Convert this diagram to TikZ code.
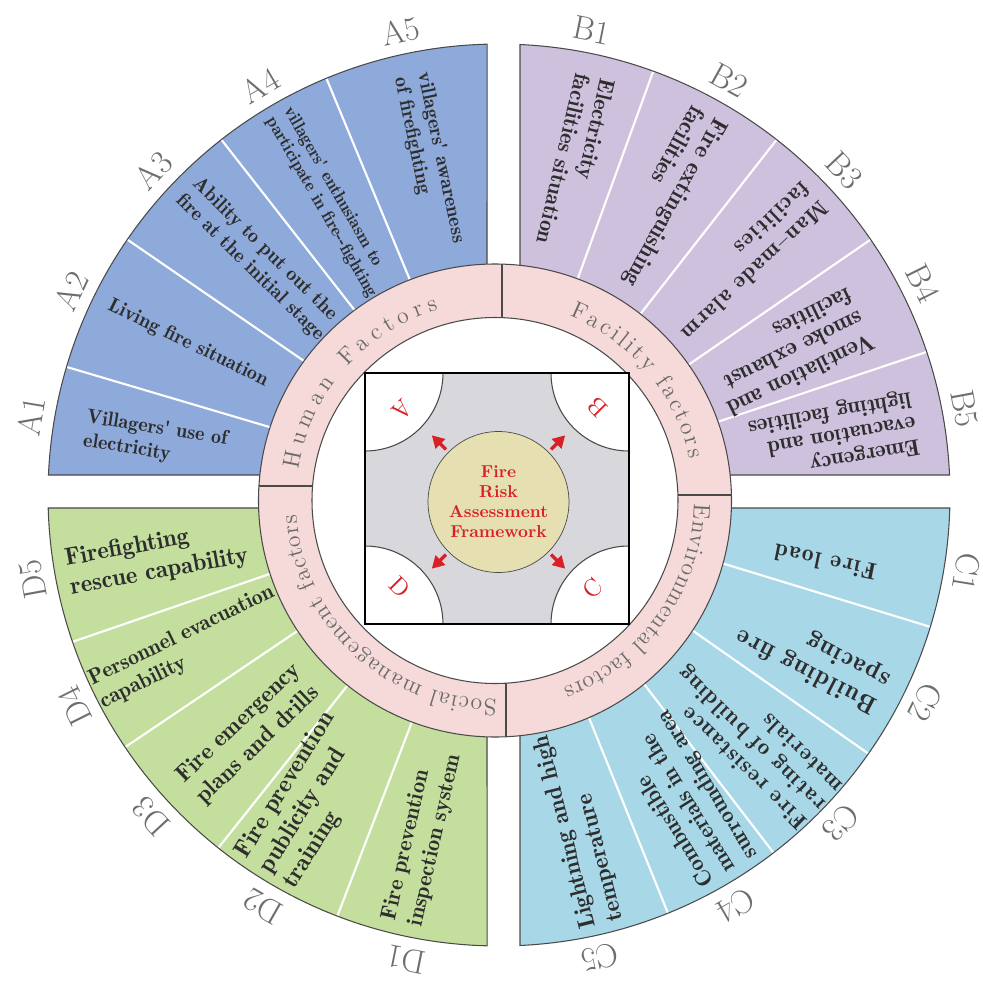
\documentclass[tikz,border=0pt]{standalone}
\usepackage{fontspec}
\newfontfamily\demifont{lmromandemi10-regular.otf}
\newfontfamily\widefont{lmromandemi10-regular.otf}[LetterSpace=6]
\usetikzlibrary{arrows.meta,decorations.text}

\definecolor{humanblue}{HTML}{8EAADB}
\definecolor{facilitylilac}{HTML}{CEC1DD}
\definecolor{envcyan}{HTML}{A8D8E8}
\definecolor{socialgreen}{HTML}{C4DF9D}
\definecolor{ringpink}{HTML}{F6D9D9}
\definecolor{corekhaki}{HTML}{E5DFB2}
\definecolor{boxgray}{HTML}{D8D8DC}
\definecolor{edge}{HTML}{4A4A4A}
\definecolor{ink}{HTML}{2E2E2E}
\definecolor{taggray}{HTML}{6E6E6E}
\definecolor{bandgray}{HTML}{6A6A6A}
\definecolor{firered}{HTML}{D92027}

\begin{document}
\begin{tikzpicture}[x=0.02cm, y=0.02cm,
    sector/.style={draw=edge, line width=0.6pt},
    split/.style={white, line width=1.2pt},
    item/.style 2 args={text=ink, align=left, inner sep=0pt,
      font=\demifont\fontsize{#1}{#2}\selectfont},
    wide/.style 2 args={text=ink, align=left, inner sep=0pt,
      font=\widefont\fontsize{#1}{#2}\selectfont},
    tag/.style={text=taggray, inner sep=0pt, font=\fontsize{19}{19}\selectfont},
    band/.style={decorate, decoration={text along path, text align=fit to path,
      text color=bandgray, text={|\fontsize{13.5}{13.5}\selectfont|#1}}},
    core/.style={circle, draw=edge, fill=corekhaki, minimum size=2.82cm, inner sep=0pt,
      text=firered, align=center, font=\bfseries\fontsize{9.8}{11.4}\selectfont},
    push/.style={firered, line width=2pt, -{Triangle[length=7pt,width=7.5pt]}, shorten <=2pt},
    letter/.style={text=firered, font=\fontsize{14}{14}\selectfont}
  ]
  \fill[white] (-499,-486) rectangle (484,495);
  \useasboundingbox (-499,-486) rectangle (484,495);

  \fill[humanblue] (-12,20) -- (91.52:451) arc[start angle=91.52, end angle=177.46, radius=451] -- cycle;
  \fill[facilitylilac] (21,20) -- (87.33:451) arc[start angle=87.33, end angle=2.54, radius=451] -- cycle;
  \fill[envcyan] (21,-13) -- (-1.65:451) arc[start angle=-1.65, end angle=-87.33, radius=451] -- cycle;
  \fill[socialgreen] (-12,-13) -- (181.65:451) arc[start angle=181.65, end angle=268.48, radius=451] -- cycle;

  \draw[split] (163.5:180) -- (163.5:451);
  \draw[split] (145.5:180) -- (145.5:451);
  \draw[split] (128:180) -- (128:451);
  \draw[split] (112.5:180) -- (112.5:451);
  \draw[split] (70:180) -- (70:451);
  \draw[split] (52:180) -- (52:451);
  \draw[split] (34.5:180) -- (34.5:451);
  \draw[split] (18.5:180) -- (18.5:451);
  \draw[split] (-17:180) -- (-17:451);
  \draw[split] (-35:180) -- (-35:451);
  \draw[split] (-52.5:180) -- (-52.5:451);
  \draw[split] (-68:180) -- (-68:451);
  \draw[split] (199:180) -- (199:451);
  \draw[split] (214:180) -- (214:451);
  \draw[split] (231.5:180) -- (231.5:451);
  \draw[split] (249:180) -- (249:451);

  \draw[sector] (-12,20) -- (91.52:451) arc[start angle=91.52, end angle=177.46, radius=451] -- cycle;
  \draw[sector] (21,20) -- (87.33:451) arc[start angle=87.33, end angle=2.54, radius=451] -- cycle;
  \draw[sector] (21,-13) -- (-1.65:451) arc[start angle=-1.65, end angle=-87.33, radius=451] -- cycle;
  \draw[sector] (-12,-13) -- (181.65:451) arc[start angle=181.65, end angle=268.48, radius=451] -- cycle;

  \begin{scope}[shift={(-4,-5.5)}]
    \filldraw[fill=ringpink, draw=edge, line width=0.6pt] (0,0) circle[radius=236.5];
    \filldraw[fill=white, draw=edge, line width=0.6pt] (0,0) circle[radius=183];
    \draw[edge, line width=0.6pt] (7,182.9) -- (7,236.4);
    \draw[edge, line width=0.6pt] (11,-182.7) -- (11,-236.2);
    \draw[edge, line width=0.6pt] (-182.4,14.5) -- (-236.1,14.5);
    \draw[edge, line width=0.6pt] (182.9,5.5) -- (236.4,5.5);
    \path[band={Human Factors}] (171:199) arc[start angle=171, end angle=106.5, radius=199];
    \path[band={Facility factors}] (68:199) arc[start angle=68, end angle=12, radius=199];
    \path[band={Environmental factors}] (-1:199) arc[start angle=-1, end angle=-70, radius=199];
    \path[band={Social management factors}] (-89.5:199) arc[start angle=-89.5, end angle=-176, radius=199];
  \end{scope}

  \fill[boxgray] (-134,-129) rectangle (130,122);
  \filldraw[fill=white, draw=edge, line width=0.6pt] (-134,122) -- (-56,122) arc[start angle=0, end angle=-90, radius=78] -- cycle;
  \filldraw[fill=white, draw=edge, line width=0.6pt] (130,122) -- (52,122) arc[start angle=180, end angle=270, radius=78] -- cycle;
  \filldraw[fill=white, draw=edge, line width=0.6pt] (130,-129) -- (52,-129) arc[start angle=180, end angle=90, radius=78] -- cycle;
  \filldraw[fill=white, draw=edge, line width=0.6pt] (-134,-129) -- (-56,-129) arc[start angle=0, end angle=90, radius=78] -- cycle;
  \draw[black, line width=0.8pt] (-134,-129) rectangle (130,122);

  \node[core] (fw) at (-0.5,-7) {Fire\\Risk\\Assessment\\Framework};
  \draw[push] (fw.135) -- ++(135:23.5);
  \draw[push] (fw.45) -- ++(45:23.5);
  \draw[push] (fw.-45) -- ++(-45:23.5);
  \draw[push] (fw.-135) -- ++(-135:23.5);
  \node[letter, rotate=-135] (la) at (-97,85) {A};
  \node[letter, rotate=135] (lb) at (99,88) {B};
  \node[letter, rotate=45] (lc) at (94,-93) {C};
  \node[letter, rotate=-45] (ld) at (-99,-92) {D};

  \node[item={11.5}{13.5}, rotate=351] (a1) at (171:348) {Villagers' use of\\electricity};
  \node[item={11.5}{13.5}, rotate=334] (a2) at (154:346) {Living fire situation};
  \node[item={11.5}{13.5}, rotate=315.6] (a3) at (135.6:337) {Ability to put out the\\fire at the initial stage};
  \node[item={10}{11.5}, rotate=300] (a4) at (120:338) {villagers' enthusiasm to\\participate in fire--fighting};
  \node[item={11.5}{13.5}, rotate=281.8] (a5) at (101.8:342) {villagers' awareness\\of firefighting};

  \node[item={12.8}{14.5}, rotate=257] (b1) at (77:342) {Electricity\\facilities situation};
  \node[item={13.5}{15}, rotate=240.9] (b2) at (60.9:341) {Fire extinguishing\\facilities};
  \node[wide={13}{15}, rotate=223.3] (b3) at (43.3:340) {Man\textendash made alarm\\facilities};
  \node[item={13.5}{14.5}, rotate=206] (b4) at (26:324) {Ventilation and\\smoke exhaust\\facilities};
  \node[item={13}{13.5}, rotate=190] (b5) at (10:340) {Emergency\\evacuation and\\lighting facilities};

  \node[wide={13.5}{15}, rotate=168.4] (c1) at (-11.6:333) {Fire load};
  \node[wide={14.5}{16.5}, rotate=152.6] (c2) at (-27.4:354) {Building fire\\spacing};
  \node[wide={13}{14.5}, rotate=135.8] (c3) at (-44.2:351) {Fire resistance\\rating of building\\materials};
  \node[item={13}{14.5}, rotate=121.7] (c4) at (-58.3:356) {Combustible\\materials in the\\surrounding area};
  \node[item={13.5}{16}, rotate=104] (c5) at (-76.5:343) {Lightning and high\\temperature};

  \node[item={12.8}{15.5}, rotate=77.3] (d1) at (257.3:351) {Fire prevention\\inspection system};
  \node[item={14}{16}, rotate=58.2] (d2) at (238.2:359) {Fire prevention\\publicity and\\training};
  \node[item={13.5}{16.5}, rotate=43.7] (d3) at (223.7:346) {Fire emergency\\plans and drills};
  \node[item={12.5}{14.5}, rotate=26] (d4) at (206:347) {Personnel evacuation\\capability};
  \node[item={14}{16.5}, rotate=10.4] (d5) at (190.4:348) {Firefighting\\rescue capability};

  \node[tag, rotate=80.5] (tA1) at (170.5:474) {A1};
  \node[tag, rotate=64.5] (tA2) at (154.5:474) {A2};
  \node[tag, rotate=46.8] (tA3) at (136.8:474) {A3};
  \node[tag, rotate=30.3] (tA4) at (120.3:474) {A4};
  \node[tag, rotate=12] (tA5) at (102:474) {A5};
  \node[tag, rotate=-11.3] (tB1) at (78.7:474) {B1};
  \node[tag, rotate=-29] (tB2) at (61:474) {B2};
  \node[tag, rotate=-46.8] (tB3) at (43.2:474) {B3};
  \node[tag, rotate=-63.5] (tB4) at (26.5:474) {B4};
  \node[tag, rotate=-79.5] (tB5) at (10.5:474) {B5};
  \node[tag, rotate=-99.3] (tC1) at (-9.3:474) {C1};
  \node[tag, rotate=-116] (tC2) at (-26:474) {C2};
  \node[tag, rotate=-133.8] (tC3) at (-43.8:474) {C3};
  \node[tag, rotate=-150] (tC4) at (-60:474) {C4};
  \node[tag, rotate=-167.7] (tC5) at (-77.7:474) {C5};
  \node[tag, rotate=168.7] (tD1) at (258.7:474) {D1};
  \node[tag, rotate=150.2] (tD2) at (240.2:474) {D2};
  \node[tag, rotate=132.7] (tD3) at (222.7:474) {D3};
  \node[tag, rotate=116.5] (tD4) at (206.5:474) {D4};
  \node[tag, rotate=100.3] (tD5) at (190.3:474) {D5};
\end{tikzpicture}
\end{document}
